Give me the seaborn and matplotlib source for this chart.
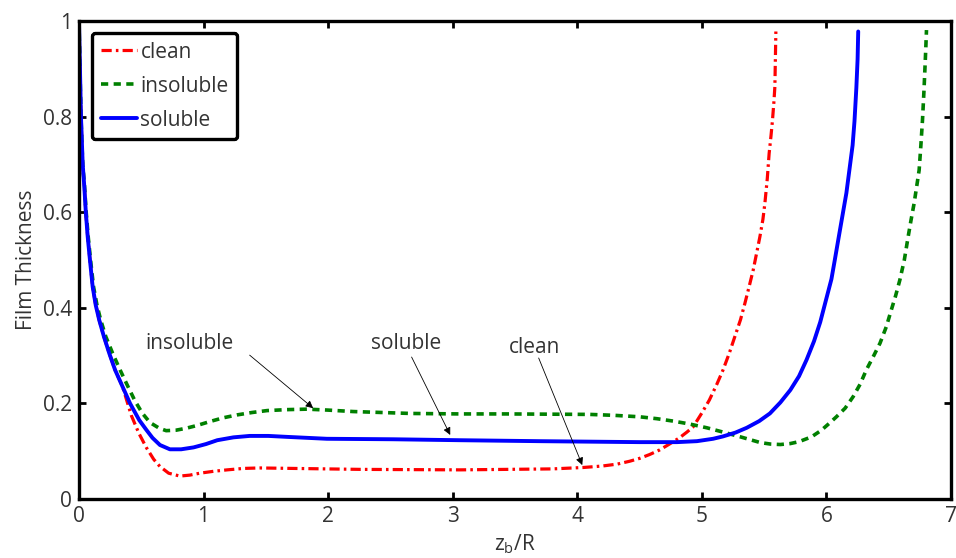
import numpy as np
import pandas as pd
import matplotlib
matplotlib.use("Agg")
import matplotlib.pyplot as plt
import seaborn as sns

# Film thickness along the bubble for the three interface conditions
soluble_x = [0.0, 0.008, 0.016, 0.03, 0.043, 0.055, 0.07, 0.09, 0.11, 0.135, 0.163, 0.2,
             0.243, 0.29, 0.35, 0.41, 0.484, 0.54, 0.59, 0.65, 0.73, 0.82, 0.92, 1.02,
             1.11, 1.24, 1.37, 1.52, 1.67, 1.99, 2.52, 3.06, 3.70, 4.50, 4.80, 4.96,
             5.09, 5.17, 5.27, 5.36, 5.46, 5.546, 5.63, 5.71, 5.78, 5.84, 5.90, 5.95,
             6.00, 6.04, 6.067, 6.10, 6.13, 6.16, 6.185, 6.21, 6.225, 6.24, 6.25, 6.255]
soluble_y = [1.0, 0.90, 0.80, 0.70, 0.653, 0.60, 0.549, 0.495, 0.444, 0.405, 0.374, 0.34,
             0.305, 0.27, 0.235, 0.20, 0.165, 0.145, 0.128, 0.113, 0.104, 0.104, 0.108, 0.115,
             0.123, 0.129, 0.132, 0.132, 0.130, 0.126, 0.125, 0.123, 0.121, 0.119, 0.119, 0.121,
             0.126, 0.131, 0.139, 0.149, 0.163, 0.179, 0.202, 0.228, 0.257, 0.291, 0.33, 0.37,
             0.42, 0.46, 0.50, 0.55, 0.595, 0.64, 0.69, 0.74, 0.79, 0.86, 0.92, 0.978]

clean_x = [0.0, 0.008, 0.016, 0.03, 0.043, 0.055, 0.07, 0.09, 0.11, 0.135, 0.163, 0.2,
           0.243, 0.29, 0.35, 0.42, 0.48, 0.54, 0.60, 0.65, 0.72, 0.81, 0.89, 0.97,
           1.08, 1.19, 1.32, 1.45, 1.72, 2.26, 3.06, 3.43, 3.80, 4.05, 4.20, 4.32,
           4.42, 4.50, 4.58, 4.66, 4.74, 4.82, 4.88, 4.93, 5.00, 5.06, 5.12, 5.17,
           5.22, 5.265, 5.31, 5.345, 5.38, 5.412, 5.44, 5.466, 5.49, 5.506, 5.525, 5.54,
           5.555, 5.567, 5.578, 5.586, 5.59, 5.594]
clean_y = [1.0, 0.90, 0.80, 0.70, 0.653, 0.60, 0.549, 0.495, 0.444, 0.405, 0.374, 0.34,
           0.305, 0.27, 0.235, 0.175, 0.138, 0.108, 0.083, 0.068, 0.054, 0.048, 0.050, 0.054,
           0.058, 0.061, 0.064, 0.065, 0.064, 0.062, 0.061, 0.062, 0.063, 0.066, 0.069, 0.073,
           0.079, 0.085, 0.093, 0.1025, 0.115, 0.128, 0.14, 0.151, 0.18, 0.207, 0.24, 0.27,
           0.305, 0.34, 0.375, 0.409, 0.445, 0.479, 0.515, 0.549, 0.585, 0.619, 0.67, 0.723,
           0.76, 0.793, 0.83, 0.8625, 0.92, 0.978]

insoluble_x = [0.0, 0.008, 0.016, 0.03, 0.045, 0.058, 0.074, 0.095, 0.117, 0.145, 0.175, 0.215,
               0.27, 0.33, 0.39, 0.45, 0.51, 0.57, 0.645, 0.70, 0.78, 0.86, 0.95, 1.05,
               1.16, 1.27, 1.39, 1.51, 1.67, 1.83, 2.00, 2.20, 2.66, 3.06, 3.43, 4.10,
               4.30, 4.50, 4.64, 4.77, 4.90, 5.04, 5.17, 5.31, 5.47, 5.55, 5.63, 5.71,
               5.78, 5.88, 5.96, 6.03, 6.08, 6.15, 6.214, 6.27, 6.32, 6.38, 6.43, 6.48,
               6.52, 6.555, 6.589, 6.625, 6.656, 6.68, 6.704, 6.725, 6.744, 6.758, 6.771, 6.782,
               6.79, 6.797, 6.803]
insoluble_y = [1.0, 0.90, 0.80, 0.70, 0.653, 0.60, 0.549, 0.495, 0.444, 0.405, 0.374, 0.34,
               0.305, 0.27, 0.237, 0.205, 0.179, 0.16, 0.148, 0.143, 0.144, 0.148, 0.154, 0.162,
               0.170, 0.176, 0.181, 0.185, 0.187, 0.188, 0.186, 0.183, 0.179, 0.178, 0.178, 0.177,
               0.175, 0.172, 0.168, 0.163, 0.157, 0.149, 0.140, 0.130, 0.118, 0.115, 0.114, 0.116,
               0.120, 0.130, 0.144, 0.16, 0.172, 0.19, 0.214, 0.24, 0.27, 0.30, 0.326, 0.36,
               0.395, 0.425, 0.458, 0.50, 0.549, 0.585, 0.619, 0.655, 0.688, 0.74, 0.793, 0.85,
               0.897, 0.94, 0.981]

x_ticks = [0, 1, 2, 3, 4, 5, 6, 7]
y_ticks = [0, 0.2, 0.4, 0.6, 0.8, 1]
y_tick_labels = ["0", "0.2", "0.4", "0.6", "0.8", "1"]

sns.set_style("ticks")
plt.rcParams["font.family"] = ["Open Sans", "DejaVu Sans"]
text_color = "#333333"
fs = 15

fig = plt.figure(figsize=(9.56, 5.58), dpi=100)
ax = fig.add_axes([0.0826, 0.1057, 0.9122, 0.8567])

series = [
    ("clean", clean_x, clean_y, "#ff0000", (0, (3.2, 1.3, 0.8, 1.3)), 2.3),
    ("insoluble", insoluble_x, insoluble_y, "#008000", (0, (2.0, 1.5)), 2.6),
    ("soluble", soluble_x, soluble_y, "#0000ff", "-", 2.8),
]
for name, xs, ys, color, ls, lw in series:
    df = pd.DataFrame({"x": xs, "y": ys})
    sns.lineplot(data=df, x="x", y="y", ax=ax, color=color, linestyle=ls,
                 linewidth=lw, label=name, estimator=None, sort=False)

ax.set_xlim(0, 7)
ax.set_ylim(0, 1)
ax.set_xticks(x_ticks)
ax.set_yticks(y_ticks)
ax.set_yticklabels(y_tick_labels)
ax.tick_params(direction="in", length=5, width=2, top=True, right=True,
               labelsize=fs, labelcolor=text_color, color="black", pad=5)
for side in ax.spines.values():
    side.set_linewidth(2.4)
    side.set_color("black")

ax.set_xlabel("z$_\\mathregular{b}$/R", fontsize=fs, color=text_color, labelpad=4)
ax.set_ylabel("Film Thickness", fontsize=fs, color=text_color, labelpad=4)

leg = ax.legend(loc="upper left", bbox_to_anchor=(0.015, 0.975), borderaxespad=0,
                fontsize=fs, handlelength=1.75, handletextpad=0.15, labelspacing=0.62,
                borderpad=0.42, fancybox=True, framealpha=1)
frame = leg.get_frame()
frame.set_edgecolor("black")
frame.set_linewidth(2.4)
frame.set_boxstyle("round", pad=0, rounding_size=0.15)
for t in leg.get_texts():
    t.set_color(text_color)

# Labels with arrows pointing at each curve
notes = [
    ("insoluble", (0.89, 0.326), (1.37, 0.301), (1.88, 0.19)),
    ("soluble", (2.63, 0.326), (2.67, 0.297), (2.98, 0.134)),
    ("clean", (3.66, 0.318), (3.69, 0.295), (4.04, 0.071)),
]
for label, tpos, start, head in notes:
    ax.text(tpos[0], tpos[1], label, fontsize=fs, color=text_color,
            ha="center", va="center")
    ax.annotate("", xy=head, xytext=start,
                arrowprops=dict(arrowstyle="-|>", color="black", lw=0.6,
                                mutation_scale=11, shrinkA=0, shrinkB=0))

fig.savefig("out.png", dpi=100)
